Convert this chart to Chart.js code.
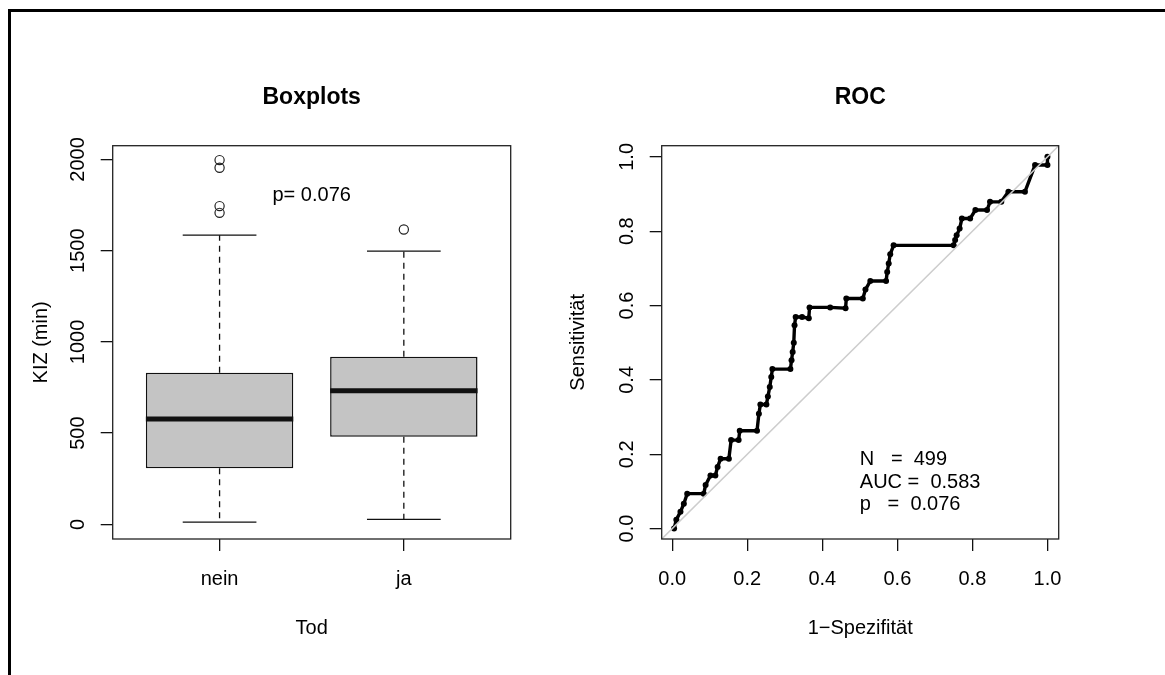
<!DOCTYPE html>
<html>
<head>
<meta charset="utf-8">
<script src="https://cdn.jsdelivr.net/npm/chart.js@4.4.1/dist/chart.umd.min.js"></script>
<style>
  html, body { margin: 0; padding: 0; background: #fff; overflow: hidden; }
  body { width: 1165px; height: 675px; position: relative; }
  .frame { position: absolute; left: 8px; top: 9px; width: 1170px; height: 700px; border-top: 3px solid #000; border-left: 3px solid #000; }
  canvas { position: absolute; top: 0; }
  #box { left: 0; }
  #roc { left: 540px; }
</style>
</head>
<body>
<div class="frame"></div>
<canvas id="box" width="540" height="675"></canvas>
<canvas id="roc" width="625" height="675"></canvas>
<script>
// values
const groups = ["nein", "ja"];
const kizLowWhisker = [13, 27];
const kizQ1 = [307, 480];
const kizMedian = [577, 732];
const kizQ3 = [831, 918];
const kizHighWhisker = [1585, 1497];
const kizOutliers = [[1996, 1954, 1744, 1707], [1616]];
const kizTicks = [0, 500, 1000, 1500, 2000];
const pValue = "0.076";

const rocFpr = [0.005, 0.011, 0.022, 0.031, 0.04, 0.084, 0.089, 0.102, 0.115, 0.121, 0.129, 0.151, 0.157, 0.177, 0.18, 0.226, 0.231, 0.235, 0.251, 0.255, 0.26, 0.264, 0.267, 0.315, 0.318, 0.321, 0.324, 0.326, 0.329, 0.346, 0.364, 0.366, 0.421, 0.462, 0.464, 0.508, 0.515, 0.528, 0.57, 0.573, 0.577, 0.581, 0.59, 0.75, 0.754, 0.758, 0.766, 0.772, 0.794, 0.808, 0.839, 0.847, 0.877, 0.896, 0.94, 0.967, 1.0, 1.0];
const rocTpr = [0, 0.024, 0.045, 0.067, 0.094, 0.094, 0.117, 0.143, 0.143, 0.166, 0.188, 0.188, 0.238, 0.238, 0.263, 0.263, 0.309, 0.334, 0.334, 0.355, 0.381, 0.408, 0.429, 0.429, 0.453, 0.475, 0.5, 0.547, 0.569, 0.569, 0.566, 0.595, 0.595, 0.593, 0.619, 0.619, 0.643, 0.666, 0.666, 0.69, 0.713, 0.738, 0.762, 0.762, 0.776, 0.789, 0.807, 0.834, 0.834, 0.857, 0.857, 0.879, 0.879, 0.906, 0.906, 0.978, 0.978, 1.0];
const rocTicks = [0, 0.2, 0.4, 0.6, 0.8, 1.0];
const rocStats = ["N   =  499", "AUC =  0.583", "p   =  0.076"];

const FONT = '"Liberation Sans", Arial, Helvetica, sans-serif';
Chart.defaults.font.family = FONT;
Chart.defaults.font.size = 20;
Chart.defaults.color = "#000";

const rocMin = -0.028;
const rocMax = 1.03;

function tickGrid() {
  return { display: true, drawOnChartArea: false, offset: false, tickLength: 12, color: "#111", lineWidth: 1.3 };
}

function titleOpts(text) {
  return {
    display: true,
    text,
    fullSize: false,
    font: { size: 23, weight: "bold" },
    padding: { top: 83.5, bottom: 34.6 },
  };
}

// box around the plot region, like R's box()
const plotFrame = {
  id: "plotFrame",
  afterDraw(chart) {
    const { ctx, chartArea: a } = chart;
    ctx.save();
    ctx.strokeStyle = "#222";
    ctx.lineWidth = 1.3;
    ctx.strokeRect(a.left, a.top, a.right - a.left, a.bottom - a.top);
    ctx.restore();
  },
};

// whiskers, staples and medians on top of the floating bars
const boxWhiskers = {
  id: "boxWhiskers",
  afterDatasetsDraw(chart) {
    const { ctx, scales: { x, y } } = chart;
    const boxes = chart.getDatasetMeta(0).data;
    ctx.save();
    ctx.strokeStyle = "#111";
    groups.forEach((g, i) => {
      const cx = x.getPixelForValue(i + 1);
      const half = boxes[i].width / 2;
      const cap = half / 2;

      ctx.lineWidth = 1.3;
      ctx.setLineDash([6, 5]);
      ctx.beginPath();
      ctx.moveTo(cx, y.getPixelForValue(kizQ1[i]));
      ctx.lineTo(cx, y.getPixelForValue(kizLowWhisker[i]));
      ctx.moveTo(cx, y.getPixelForValue(kizQ3[i]));
      ctx.lineTo(cx, y.getPixelForValue(kizHighWhisker[i]));
      ctx.stroke();

      ctx.setLineDash([]);
      ctx.beginPath();
      [kizLowWhisker[i], kizHighWhisker[i]].forEach((v) => {
        const py = y.getPixelForValue(v);
        ctx.moveTo(cx - cap, py);
        ctx.lineTo(cx + cap, py);
      });
      ctx.stroke();

      ctx.lineWidth = 5;
      ctx.beginPath();
      const my = y.getPixelForValue(kizMedian[i]);
      ctx.moveTo(cx - half, my);
      ctx.lineTo(cx + half, my);
      ctx.stroke();
    });

    ctx.fillStyle = "#000";
    ctx.font = "20px " + FONT;
    ctx.textAlign = "center";
    ctx.textBaseline = "middle";
    ctx.fillText("p= " + pValue, x.getPixelForValue(1.5), y.getPixelForValue(1800));
    ctx.restore();
  },
};

const rocLabels = {
  id: "rocLabels",
  afterDatasetsDraw(chart) {
    const { ctx, scales: { x, y } } = chart;
    ctx.save();
    ctx.fillStyle = "#000";
    ctx.font = "20px " + FONT;
    ctx.textAlign = "left";
    ctx.textBaseline = "middle";
    const left = x.getPixelForValue(0.5);
    const top = y.getPixelForValue(0.185);
    rocStats.forEach((s, i) => ctx.fillText(s, left, top + i * 22.4));
    ctx.restore();
  },
};

new Chart(document.getElementById("box"), {
  type: "bar",
  data: {
    datasets: [
      {
        data: groups.map((g, i) => ({ x: i + 1, y: [kizQ1[i], kizQ3[i]] })),
        backgroundColor: "#c4c4c4",
        borderColor: "#111",
        borderWidth: 1.5,
        borderSkipped: false,
        barPercentage: 0.8,
        categoryPercentage: 1,
      },
      {
        type: "scatter",
        data: kizOutliers.flatMap((vals, i) => vals.map((v) => ({ x: i + 1, y: v }))),
        pointStyle: "circle",
        pointRadius: 4.6,
        borderColor: "#222",
        borderWidth: 1.2,
        backgroundColor: "rgba(0,0,0,0)",
      },
    ],
  },
  options: {
    responsive: false,
    animation: false,
    layout: { padding: { left: 0, top: 0, right: 29.3, bottom: 0 } },
    plugins: {
      legend: { display: false },
      tooltip: { enabled: false },
      title: titleOpts("Boxplots"),
    },
    scales: {
      x: {
        type: "linear",
        min: 0.42,
        max: 2.58,
        offset: false,
        grid: tickGrid(),
        border: { display: false },
        afterBuildTicks: (s) => {
          s.ticks = groups.map((g, i) => ({ value: i + 1 }));
        },
        afterFit: (s) => {
          s.height = 136;
        },
        ticks: { autoSkip: false, maxRotation: 0, padding: 16, callback: (v) => groups[v - 1] },
        title: { display: true, text: "Tod", padding: { top: 0, bottom: 34.9 } },
      },
      y: {
        type: "linear",
        min: -80,
        max: 2075,
        beginAtZero: false,
        grid: tickGrid(),
        border: { display: false },
        afterBuildTicks: (s) => {
          s.ticks = kizTicks.map((v) => ({ value: v }));
        },
        afterFit: (s) => {
          s.width = 112.7;
        },
        ticks: { autoSkip: false, minRotation: 90, maxRotation: 90, crossAlign: "center", padding: 0, callback: (v) => String(v) },
        title: { display: true, text: "KIZ (min)", padding: { top: 29, bottom: 0 } },
      },
    },
  },
  plugins: [boxWhiskers, plotFrame],
});

new Chart(document.getElementById("roc"), {
  type: "scatter",
  data: {
    datasets: [
      {
        data: [{ x: rocMin, y: rocMin }, { x: rocMax, y: rocMax }],
        showLine: true,
        borderColor: "#cdcdcd",
        borderWidth: 1.6,
        pointRadius: 0,
      },
      {
        data: rocFpr.map((v, i) => ({ x: v, y: rocTpr[i] })),
        showLine: true,
        tension: 0,
        borderColor: "#000",
        borderWidth: 3.4,
        pointRadius: 3,
        pointBorderWidth: 0,
        pointBackgroundColor: "#000",
      },
    ],
  },
  options: {
    responsive: false,
    animation: false,
    layout: { padding: { left: 0, top: 0, right: 106.3, bottom: 0 } },
    plugins: {
      legend: { display: false },
      tooltip: { enabled: false },
      title: titleOpts("ROC"),
    },
    scales: {
      x: {
        type: "linear",
        min: rocMin,
        max: rocMax,
        grid: tickGrid(),
        border: { display: false },
        afterBuildTicks: (s) => {
          s.ticks = rocTicks.map((v) => ({ value: v }));
        },
        afterFit: (s) => {
          s.height = 136;
        },
        ticks: { autoSkip: false, maxRotation: 0, padding: 16, callback: (v) => v.toFixed(1) },
        title: { display: true, text: "1\u2212Spezifit\u00e4t", padding: { top: 0, bottom: 34.9 } },
      },
      y: {
        type: "linear",
        min: rocMin,
        max: rocMax,
        grid: tickGrid(),
        border: { display: false },
        afterBuildTicks: (s) => {
          s.ticks = rocTicks.map((v) => ({ value: v }));
        },
        afterFit: (s) => {
          s.width = 121.7;
        },
        ticks: { autoSkip: false, minRotation: 90, maxRotation: 90, crossAlign: "center", padding: 8, callback: (v) => v.toFixed(1) },
        title: { display: true, text: "Sensitivit\u00e4t", padding: { top: 26.5, bottom: 0 } },
      },
    },
  },
  plugins: [rocLabels, plotFrame],
});
</script>
</body>
</html>
